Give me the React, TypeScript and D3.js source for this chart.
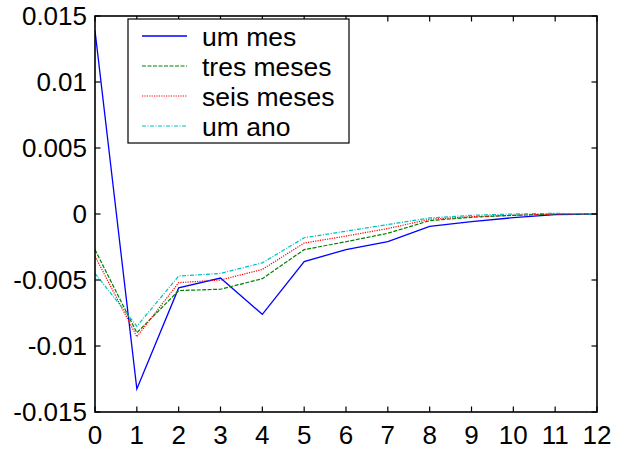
import React from "react";
import * as d3 from "d3";

// Horizons (months) and impulse responses for each maturity
const horizons = [0, 1, 2, 3, 4, 5, 6, 7, 8, 9, 10, 11, 12];
const umMes = [0.0139, -0.01325, -0.0056, -0.00485, -0.0076, -0.0036, -0.0027, -0.0021, -0.00093, -0.00058, -0.00028, -0.00005, 0];
const tresMeses = [-0.0027, -0.009, -0.0058, -0.0057, -0.0049, -0.0027, -0.0021, -0.00146, -0.0005, -0.00025, -0.0001, 0, 0];
const seisMeses = [-0.0032, -0.0093, -0.0052, -0.005, -0.0042, -0.0022, -0.00167, -0.0011, -0.0004, -0.0002, -0.0001, 0, 0];
const umAno = [-0.0045, -0.0085, -0.0047, -0.0045, -0.0037, -0.0018, -0.0013, -0.0008, -0.0003, -0.0001, 0, 0.00005, 0];

const seriesNames = ["um mes", "tres meses", "seis meses", "um ano"];
const yTicks = [0.015, 0.01, 0.005, 0, -0.005, -0.01, -0.015];
const yTickLabels = ["0.015", "0.01", "0.005", "0", "-0.005", "-0.01", "-0.015"];

const W = 625;
const H = 451;
const margin = { left: 95, right: 28, top: 16, bottom: 39 };

const styles = [
  { color: "#0000ff", dash: "none", width: 1.3 },
  { color: "#008000", dash: "4,1.5", width: 1.2 },
  { color: "#ff0000", dash: "1.2,1.2", width: 1.2 },
  { color: "#00bfbf", dash: "4,1.5,1,1.5", width: 1.2 },
];

export default function App() {
  const x = d3
    .scaleLinear()
    .domain([0, 12])
    .range([margin.left, W - margin.right]);
  const y = d3
    .scaleLinear()
    .domain([-0.015, 0.015])
    .range([H - margin.bottom, margin.top]);

  const series = [umMes, tresMeses, seisMeses, umAno];
  const line = d3
    .line<number>()
    .x((_, i) => x(horizons[i]))
    .y((v) => y(v));

  const x0 = x(0);
  const x1 = x(12);
  const yTop = y(0.015);
  const yBot = y(-0.015);
  const tickLen = 5.5;
  const font = "Liberation Sans, Arial, sans-serif";

  // Legend box geometry
  const lg = { x: 128, y: 19, w: 221, h: 124, rowH: 30, firstRow: 17 };

  return (
    <svg
      width={W}
      height={H}
      style={{ position: "absolute", left: 0, top: 0, background: "#fff" }}
      fontFamily={font}
    >
      <rect x={0} y={0} width={W} height={H} fill="#fff" />
      <defs>
        <clipPath id="plot">
          <rect x={x0} y={yTop} width={x1 - x0} height={yBot - yTop} />
        </clipPath>
      </defs>

      {/* series */}
      <g clipPath="url(#plot)">
        {series.map((s, i) => (
          <path
            key={i}
            d={line(s) || ""}
            fill="none"
            stroke={styles[i].color}
            strokeWidth={styles[i].width}
            strokeDasharray={styles[i].dash}
          />
        ))}
      </g>

      {/* ticks on all four sides, pointing inward */}
      <g stroke="#000" strokeWidth={1.2}>
        {horizons.map((h) => (
          <g key={"xt" + h}>
            <line x1={x(h)} x2={x(h)} y1={yBot} y2={yBot - tickLen} />
            <line x1={x(h)} x2={x(h)} y1={yTop} y2={yTop + tickLen} />
          </g>
        ))}
        {yTicks.map((t) => (
          <g key={"yt" + t}>
            <line x1={x0} x2={x0 + tickLen} y1={y(t)} y2={y(t)} />
            <line x1={x1} x2={x1 - tickLen} y1={y(t)} y2={y(t)} />
          </g>
        ))}
      </g>

      {/* frame */}
      <rect
        x={x0}
        y={yTop}
        width={x1 - x0}
        height={yBot - yTop}
        fill="none"
        stroke="#000"
        strokeWidth={1.6}
      />

      {/* tick labels */}
      {horizons.map((h) => (
        <text
          key={"xl" + h}
          x={x(h)}
          y={yBot + 32}
          textAnchor="middle"
          fontSize={26}
          fill="#000"
        >
          {h}
        </text>
      ))}
      {yTicks.map((t, i) => (
        <text
          key={"yl" + t}
          x={x0 - 8}
          y={y(t)}
          dy="0.36em"
          textAnchor="end"
          fontSize={26}
          fill="#000"
        >
          {yTickLabels[i]}
        </text>
      ))}

      {/* legend */}
      <rect
        x={lg.x}
        y={lg.y}
        width={lg.w}
        height={lg.h}
        fill="#fff"
        stroke="#000"
        strokeWidth={1.2}
      />
      {seriesNames.map((name, i) => {
        const cy = lg.y + lg.firstRow + i * lg.rowH;
        return (
          <g key={name}>
            <line
              x1={142}
              x2={187}
              y1={cy}
              y2={cy}
              stroke={styles[i].color}
              strokeWidth={styles[i].width}
              strokeDasharray={styles[i].dash}
            />
            <text x={202} y={cy} dy="0.36em" fontSize={26.5} fill="#000">
              {name}
            </text>
          </g>
        );
      })}
    </svg>
  );
}
